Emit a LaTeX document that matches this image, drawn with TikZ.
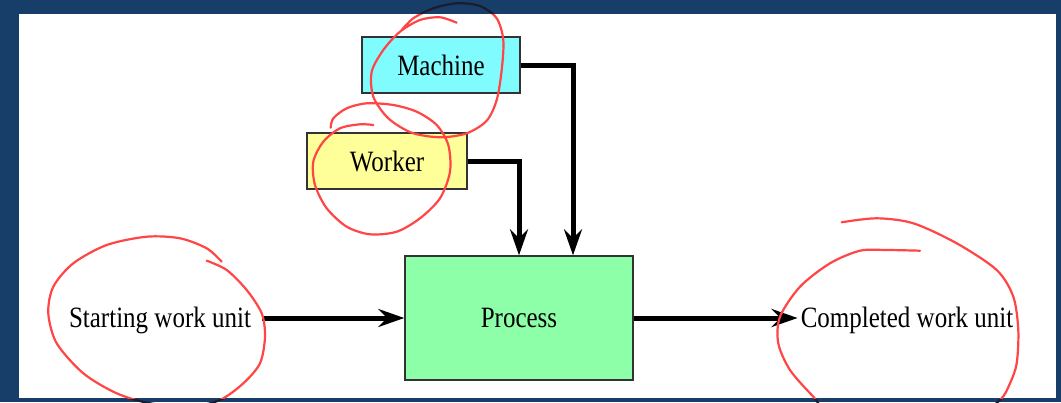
\documentclass[tikz,border=0pt]{standalone}
\usepackage{fontspec}
\usepackage{graphicx}
\setmainfont{Liberation Serif}
\usetikzlibrary{arrows.meta,positioning}
\definecolor{slideBlue}{HTML}{163E69}
\definecolor{machColor}{HTML}{80FCFF}
\definecolor{workColor}{HTML}{FFFF99}
\definecolor{procColor}{HTML}{8CFFA8}
\definecolor{penColor}{HTML}{FF4545}
\definecolor{penDark}{HTML}{1C1C2C}
\tikzset{
	box/.style={draw=black!80, line width=1.4pt, inner sep=0, font=\fontsize{25}{30}\selectfont},
	lbl/.style={inner sep=3pt, font=\fontsize{25}{30}\selectfont},
	flow/.style={line width=5pt, -{Stealth[length=26pt,width=18pt,inset=9pt]}},
	ink/.style={line width=2.2pt, line cap=round, line join=round}
}
\newcommand{\tall}[1]{\scalebox{1}[1.18]{#1}}
% hand drawn rings round the labels
\newcommand{\inkLoops}[1]{%
	\draw[ink,#1] plot[smooth] coordinates {(456.7,-22.7) (440,-17.3) (420,-20) (400,-31.7) (383.3,-50) (371.7,-71.7) (373.3,-96.7) (388.3,-118.3) (411.7,-132.7) (440,-137.3) (466.7,-133.3) (486.7,-120.7) (496.7,-100) (501.7,-70) (503.3,-40) (496.7,-18.3) (480,-6) (456.7,-3.3) (433.3,-8.3) (413.3,-18.3) (401.7,-30)};
	\draw[ink,#1] plot[smooth] coordinates {(373.3,-125) (360,-124.3) (340,-128.3) (323.3,-141.7) (313.3,-161.7) (315,-185) (326.7,-208.3) (346.7,-226.7) (370,-234.3) (396.7,-231.7) (420,-218.3) (440,-198.3) (450,-171.7) (448.3,-145) (436.7,-125) (416.7,-111.7) (393.3,-105) (366.7,-103.3) (346.7,-108.3) (333.3,-118.3) (330.7,-127.7)};
	\draw[ink,#1] plot[smooth] coordinates {(206.7,-260.7) (226.7,-270) (246.7,-290) (261.7,-313.3) (265,-336.7) (260,-363.3) (243.3,-383.3) (220,-400) (190,-406.7) (150,-403.3) (116.7,-393.3) (83.3,-373.3) (56.7,-343.3) (48.3,-313.3) (53.3,-286.7) (73.3,-263.3) (106.7,-245) (146.7,-236.7) (180,-238.3) (206.7,-248.3) (221.7,-261.7)};
	\draw[ink,#1] plot[smooth] coordinates {(920,-250.7) (886.7,-250) (860,-250.7) (830,-263.3) (800,-286.7) (780,-316.7) (778.3,-343.3) (790,-370) (813.3,-396.7) (835,-418) (905,-432) (970,-420) (1000,-400) (1010,-383.3) (1016.7,-363.3) (1018.3,-330) (1013.3,-296.7) (996.7,-270) (956.7,-243.3) (913.3,-223.3) (876.7,-218.3) (841.7,-222.3)};
}

\begin{document}
\begin{tikzpicture}[x=1pt, y=1pt]
	\useasboundingbox (0,0) rectangle (1061,-402);
	\fill[slideBlue] (0,0) rectangle (1061,-402);
	\inkLoops{draw=penDark}
	\fill[white] (19,-14) rectangle (1056,-398);

	\node[box, fill=machColor, minimum width=158, minimum height=56] (mach) at (441,-65) {\tall{Machine}};
	\node[box, fill=workColor, minimum width=160, minimum height=56] (work) at (387,-161) {\tall{Worker}};
	\node[box, fill=procColor, minimum width=228, minimum height=124] (proc) at (519,-318) {\tall{Process}};
	\node[lbl, anchor=base] (start) at (160,-327) {\tall{Starting work unit}};
	\node[lbl, anchor=base] (done) at (907,-327) {\tall{Completed work unit}};

	\draw[flow] ([xshift=8pt]start.east |- proc.west) -- (proc.west);
	\draw[flow] (proc.east) -- (done.west |- proc.east);
	\draw[flow] (mach.east) -| ([xshift=54pt]proc.north);
	\draw[flow] (work.east) -| (proc.north);

	\begin{scope}
		\clip (19,-14) rectangle (1056,-398);
		\inkLoops{draw=penColor}
	\end{scope}
\end{tikzpicture}
\end{document}
